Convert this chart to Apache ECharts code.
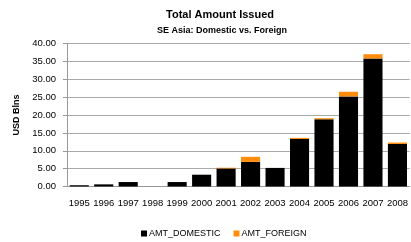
<!DOCTYPE html>
<html><head><meta charset="utf-8">
<script src="https://cdn.jsdelivr.net/npm/echarts@6/dist/echarts.min.js"></script>
<style>html,body{margin:0;padding:0;background:#fff}#c{width:411px;height:242px}</style>
</head><body><div id="c"></div>
<script>
const years = ['1995','1996','1997','1998','1999','2000','2001','2002','2003','2004','2005','2006','2007','2008'];
const domestic = [0.35,0.6,1.25,0,1.25,3.3,5.05,6.9,5.2,13.3,18.8,25.2,35.8,11.9];
const foreign = [0,0,0,0,0,0,0.2,1.4,0,0.3,0.3,1.3,1.2,0.4];
const yTicks = [0,5,10,15,20,25,30,35,40];
const F = 'Liberation Sans';
const chart = echarts.init(document.getElementById('c'));
chart.setOption({
  animation:false,
  title:[
    {text:'Total Amount Issued',left:215,top:4,textAlign:'center',textStyle:{fontFamily:F,fontSize:11,fontWeight:'bold',color:'#000'}},
    {text:'SE Asia: Domestic vs. Foreign',left:217,top:21,textAlign:'center',textStyle:{fontFamily:F,fontSize:9,fontWeight:'bold',color:'#000'}}
  ],
  legend:{top:224,left:136,itemWidth:6,itemHeight:6,itemGap:13,icon:'rect',
    textStyle:{fontFamily:F,fontSize:9,color:'#000',padding:[0,0,0,-3]},
    data:['AMT_DOMESTIC','AMT_FOREIGN']},
  grid:{left:67,right:1,top:43.5,bottom:55.5},
  xAxis:{type:'category',data:years,
    axisLine:{lineStyle:{color:'#999'}},axisTick:{show:false},
    axisLabel:{fontFamily:F,fontSize:9.5,color:'#000',margin:12,interval:0}},
  yAxis:{type:'value',min:yTicks[0],max:yTicks[yTicks.length-1],interval:5,
    name:'USD Blns',nameLocation:'middle',nameGap:45,nameRotate:90,
    nameTextStyle:{fontFamily:F,fontSize:9,fontWeight:'bold',color:'#000'},
    axisLine:{show:true,lineStyle:{color:'#999'}},axisTick:{show:true,length:4,lineStyle:{color:'#999'}},
    splitLine:{lineStyle:{color:'#aaa'}},
    axisLabel:{fontFamily:F,fontSize:9.5,color:'#000',margin:11,formatter:v=>v.toFixed(2)}},
  series:[
    {name:'AMT_DOMESTIC',type:'bar',stack:'t',data:domestic,barCategoryGap:'22%',itemStyle:{color:'#000'}},
    {name:'AMT_FOREIGN',type:'bar',stack:'t',data:foreign,itemStyle:{color:'#ff8c0a'}}
  ]
});
</script></body></html>
